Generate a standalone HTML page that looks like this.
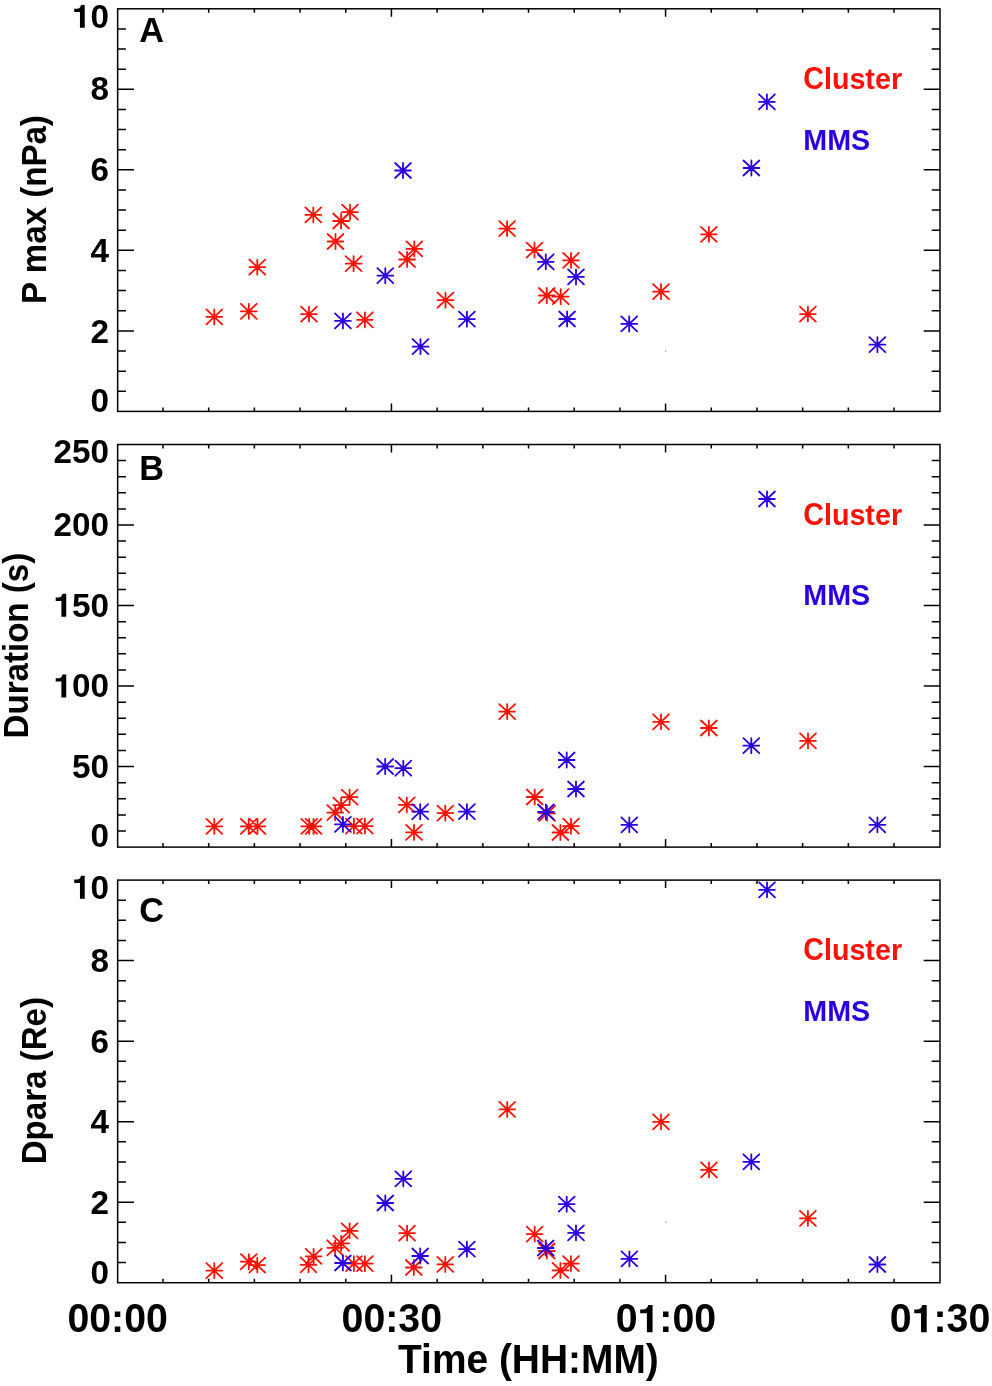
<!DOCTYPE html>
<html><head><meta charset="utf-8"><title>Figure</title>
<style>
html,body{margin:0;padding:0;background:#fff;}
svg{display:block;will-change:transform;}
text{font-family:'Liberation Sans', sans-serif;font-weight:bold;}
</style></head>
<body>
<svg width="992" height="1386" viewBox="0 0 992 1386">
<rect width="992" height="1386" fill="#fff"/>
<rect x="117.65" y="8.8" width="822.35" height="402.6" fill="none" stroke="#000" stroke-width="1.5"/>
<path d="M162.99 411.40v-4.0M162.99 8.80v4.0M208.68 411.40v-4.0M208.68 8.80v4.0M254.37 411.40v-4.0M254.37 8.80v4.0M300.06 411.40v-4.0M300.06 8.80v4.0M345.75 411.40v-4.0M345.75 8.80v4.0M391.44 411.40v-8.0M391.44 8.80v8.0M437.13 411.40v-4.0M437.13 8.80v4.0M482.82 411.40v-4.0M482.82 8.80v4.0M528.51 411.40v-4.0M528.51 8.80v4.0M574.20 411.40v-4.0M574.20 8.80v4.0M619.89 411.40v-4.0M619.89 8.80v4.0M665.58 411.40v-8.0M665.58 8.80v8.0M711.27 411.40v-4.0M711.27 8.80v4.0M756.96 411.40v-4.0M756.96 8.80v4.0M802.65 411.40v-4.0M802.65 8.80v4.0M848.34 411.40v-4.0M848.34 8.80v4.0M894.03 411.40v-4.0M894.03 8.80v4.0M117.65 391.27h8.3M940.00 391.27h-8.3M117.65 371.14h8.3M940.00 371.14h-8.3M117.65 351.01h8.3M940.00 351.01h-8.3M117.65 330.88h16.3M940.00 330.88h-16.3M117.65 310.75h8.3M940.00 310.75h-8.3M117.65 290.62h8.3M940.00 290.62h-8.3M117.65 270.49h8.3M940.00 270.49h-8.3M117.65 250.36h16.3M940.00 250.36h-16.3M117.65 230.23h8.3M940.00 230.23h-8.3M117.65 210.10h8.3M940.00 210.10h-8.3M117.65 189.97h8.3M940.00 189.97h-8.3M117.65 169.84h16.3M940.00 169.84h-16.3M117.65 149.71h8.3M940.00 149.71h-8.3M117.65 129.58h8.3M940.00 129.58h-8.3M117.65 109.45h8.3M940.00 109.45h-8.3M117.65 89.32h16.3M940.00 89.32h-16.3M117.65 69.19h8.3M940.00 69.19h-8.3M117.65 49.06h8.3M940.00 49.06h-8.3M117.65 28.93h8.3M940.00 28.93h-8.3" stroke="#000" stroke-width="1.5" fill="none"/>
<rect x="117.65" y="444.5" width="822.35" height="402.6" fill="none" stroke="#000" stroke-width="1.5"/>
<path d="M162.99 847.10v-4.0M162.99 444.50v4.0M208.68 847.10v-4.0M208.68 444.50v4.0M254.37 847.10v-4.0M254.37 444.50v4.0M300.06 847.10v-4.0M300.06 444.50v4.0M345.75 847.10v-4.0M345.75 444.50v4.0M391.44 847.10v-8.0M391.44 444.50v8.0M437.13 847.10v-4.0M437.13 444.50v4.0M482.82 847.10v-4.0M482.82 444.50v4.0M528.51 847.10v-4.0M528.51 444.50v4.0M574.20 847.10v-4.0M574.20 444.50v4.0M619.89 847.10v-4.0M619.89 444.50v4.0M665.58 847.10v-8.0M665.58 444.50v8.0M711.27 847.10v-4.0M711.27 444.50v4.0M756.96 847.10v-4.0M756.96 444.50v4.0M802.65 847.10v-4.0M802.65 444.50v4.0M848.34 847.10v-4.0M848.34 444.50v4.0M894.03 847.10v-4.0M894.03 444.50v4.0M117.65 831.00h8.3M940.00 831.00h-8.3M117.65 814.89h8.3M940.00 814.89h-8.3M117.65 798.79h8.3M940.00 798.79h-8.3M117.65 782.68h8.3M940.00 782.68h-8.3M117.65 766.58h16.3M940.00 766.58h-16.3M117.65 750.48h8.3M940.00 750.48h-8.3M117.65 734.37h8.3M940.00 734.37h-8.3M117.65 718.27h8.3M940.00 718.27h-8.3M117.65 702.16h8.3M940.00 702.16h-8.3M117.65 686.06h16.3M940.00 686.06h-16.3M117.65 669.96h8.3M940.00 669.96h-8.3M117.65 653.85h8.3M940.00 653.85h-8.3M117.65 637.75h8.3M940.00 637.75h-8.3M117.65 621.64h8.3M940.00 621.64h-8.3M117.65 605.54h16.3M940.00 605.54h-16.3M117.65 589.44h8.3M940.00 589.44h-8.3M117.65 573.33h8.3M940.00 573.33h-8.3M117.65 557.23h8.3M940.00 557.23h-8.3M117.65 541.12h8.3M940.00 541.12h-8.3M117.65 525.02h16.3M940.00 525.02h-16.3M117.65 508.92h8.3M940.00 508.92h-8.3M117.65 492.81h8.3M940.00 492.81h-8.3M117.65 476.71h8.3M940.00 476.71h-8.3M117.65 460.60h8.3M940.00 460.60h-8.3" stroke="#000" stroke-width="1.5" fill="none"/>
<rect x="117.65" y="880.1" width="822.35" height="402.6" fill="none" stroke="#000" stroke-width="1.5"/>
<path d="M162.99 1282.70v-4.0M162.99 880.10v4.0M208.68 1282.70v-4.0M208.68 880.10v4.0M254.37 1282.70v-4.0M254.37 880.10v4.0M300.06 1282.70v-4.0M300.06 880.10v4.0M345.75 1282.70v-4.0M345.75 880.10v4.0M391.44 1282.70v-8.0M391.44 880.10v8.0M437.13 1282.70v-4.0M437.13 880.10v4.0M482.82 1282.70v-4.0M482.82 880.10v4.0M528.51 1282.70v-4.0M528.51 880.10v4.0M574.20 1282.70v-4.0M574.20 880.10v4.0M619.89 1282.70v-4.0M619.89 880.10v4.0M665.58 1282.70v-8.0M665.58 880.10v8.0M711.27 1282.70v-4.0M711.27 880.10v4.0M756.96 1282.70v-4.0M756.96 880.10v4.0M802.65 1282.70v-4.0M802.65 880.10v4.0M848.34 1282.70v-4.0M848.34 880.10v4.0M894.03 1282.70v-4.0M894.03 880.10v4.0M117.65 1262.57h8.3M940.00 1262.57h-8.3M117.65 1242.44h8.3M940.00 1242.44h-8.3M117.65 1222.31h8.3M940.00 1222.31h-8.3M117.65 1202.18h16.3M940.00 1202.18h-16.3M117.65 1182.05h8.3M940.00 1182.05h-8.3M117.65 1161.92h8.3M940.00 1161.92h-8.3M117.65 1141.79h8.3M940.00 1141.79h-8.3M117.65 1121.66h16.3M940.00 1121.66h-16.3M117.65 1101.53h8.3M940.00 1101.53h-8.3M117.65 1081.40h8.3M940.00 1081.40h-8.3M117.65 1061.27h8.3M940.00 1061.27h-8.3M117.65 1041.14h16.3M940.00 1041.14h-16.3M117.65 1021.01h8.3M940.00 1021.01h-8.3M117.65 1000.88h8.3M940.00 1000.88h-8.3M117.65 980.75h8.3M940.00 980.75h-8.3M117.65 960.62h16.3M940.00 960.62h-16.3M117.65 940.49h8.3M940.00 940.49h-8.3M117.65 920.36h8.3M940.00 920.36h-8.3M117.65 900.23h8.3M940.00 900.23h-8.3" stroke="#000" stroke-width="1.5" fill="none"/>
<path d="M206.40 316.90h15.80M214.30 309.40v15.00M206.40 309.40l15.80 15.00M206.40 324.40l15.80 -15.00M240.90 311.30h15.80M248.80 303.80v15.00M240.90 303.80l15.80 15.00M240.90 318.80l15.80 -15.00M249.40 267.20h15.80M257.30 259.70v15.00M249.40 259.70l15.80 15.00M249.40 274.70l15.80 -15.00M301.10 314.10h15.80M309.00 306.60v15.00M301.10 306.60l15.80 15.00M301.10 321.60l15.80 -15.00M305.40 214.90h15.80M313.30 207.40v15.00M305.40 207.40l15.80 15.00M305.40 222.40l15.80 -15.00M327.60 241.50h15.80M335.50 234.00v15.00M327.60 234.00l15.80 15.00M327.60 249.00l15.80 -15.00M333.20 221.00h15.80M341.10 213.50v15.00M333.20 213.50l15.80 15.00M333.20 228.50l15.80 -15.00M342.10 212.10h15.80M350.00 204.60v15.00M342.10 204.60l15.80 15.00M342.10 219.60l15.80 -15.00M345.70 263.70h15.80M353.60 256.20v15.00M345.70 256.20l15.80 15.00M345.70 271.20l15.80 -15.00M357.00 319.80h15.80M364.90 312.30v15.00M357.00 312.30l15.80 15.00M357.00 327.30l15.80 -15.00M399.20 259.50h15.80M407.10 252.00v15.00M399.20 252.00l15.80 15.00M399.20 267.00l15.80 -15.00M406.40 248.90h15.80M414.30 241.40v15.00M406.40 241.40l15.80 15.00M406.40 256.40l15.80 -15.00M437.60 300.20h15.80M445.50 292.70v15.00M437.60 292.70l15.80 15.00M437.60 307.70l15.80 -15.00M499.20 228.60h15.80M507.10 221.10v15.00M499.20 221.10l15.80 15.00M499.20 236.10l15.80 -15.00M526.60 250.10h15.80M534.50 242.60v15.00M526.60 242.60l15.80 15.00M526.60 257.60l15.80 -15.00M538.90 295.50h15.80M546.80 288.00v15.00M538.90 288.00l15.80 15.00M538.90 303.00l15.80 -15.00M552.80 296.70h15.80M560.70 289.20v15.00M552.80 289.20l15.80 15.00M552.80 304.20l15.80 -15.00M563.10 260.40h15.80M571.00 252.90v15.00M563.10 252.90l15.80 15.00M563.10 267.90l15.80 -15.00M653.10 291.70h15.80M661.00 284.20v15.00M653.10 284.20l15.80 15.00M653.10 299.20l15.80 -15.00M701.00 234.30h15.80M708.90 226.80v15.00M701.00 226.80l15.80 15.00M701.00 241.80l15.80 -15.00M800.00 314.10h15.80M807.90 306.60v15.00M800.00 306.60l15.80 15.00M800.00 321.60l15.80 -15.00" stroke="#fa1206" stroke-width="1.8" stroke-linecap="round" fill="none"/>
<path d="M335.00 320.90h15.80M342.90 313.40v15.00M335.00 313.40l15.80 15.00M335.00 328.40l15.80 -15.00M377.40 275.70h15.80M385.30 268.20v15.00M377.40 268.20l15.80 15.00M377.40 283.20l15.80 -15.00M395.10 170.50h15.80M403.00 163.00v15.00M395.10 163.00l15.80 15.00M395.10 178.00l15.80 -15.00M412.60 346.70h15.80M420.50 339.20v15.00M412.60 339.20l15.80 15.00M412.60 354.20l15.80 -15.00M459.00 319.20h15.80M466.90 311.70v15.00M459.00 311.70l15.80 15.00M459.00 326.70l15.80 -15.00M537.90 261.80h15.80M545.80 254.30v15.00M537.90 254.30l15.80 15.00M537.90 269.30l15.80 -15.00M559.20 319.00h15.80M567.10 311.50v15.00M559.20 311.50l15.80 15.00M559.20 326.50l15.80 -15.00M568.10 276.90h15.80M576.00 269.40v15.00M568.10 269.40l15.80 15.00M568.10 284.40l15.80 -15.00M621.30 323.90h15.80M629.20 316.40v15.00M621.30 316.40l15.80 15.00M621.30 331.40l15.80 -15.00M743.50 168.00h15.80M751.40 160.50v15.00M743.50 160.50l15.80 15.00M743.50 175.50l15.80 -15.00M759.00 101.80h15.80M766.90 94.30v15.00M759.00 94.30l15.80 15.00M759.00 109.30l15.80 -15.00M869.50 344.70h15.80M877.40 337.20v15.00M869.50 337.20l15.80 15.00M869.50 352.20l15.80 -15.00" stroke="#2a00e2" stroke-width="1.8" stroke-linecap="round" fill="none"/>
<path d="M206.40 826.40h15.80M214.30 818.90v15.00M206.40 818.90l15.80 15.00M206.40 833.90l15.80 -15.00M240.80 826.40h15.80M248.70 818.90v15.00M240.80 818.90l15.80 15.00M240.80 833.90l15.80 -15.00M249.60 826.40h15.80M257.50 818.90v15.00M249.60 818.90l15.80 15.00M249.60 833.90l15.80 -15.00M301.30 826.40h15.80M309.20 818.90v15.00M301.30 818.90l15.80 15.00M301.30 833.90l15.80 -15.00M305.60 826.40h15.80M313.50 818.90v15.00M305.60 818.90l15.80 15.00M305.60 833.90l15.80 -15.00M327.30 812.70h15.80M335.20 805.20v15.00M327.30 805.20l15.80 15.00M327.30 820.20l15.80 -15.00M333.30 805.20h15.80M341.20 797.70v15.00M333.30 797.70l15.80 15.00M333.30 812.70l15.80 -15.00M341.70 797.20h15.80M349.60 789.70v15.00M341.70 789.70l15.80 15.00M341.70 804.70l15.80 -15.00M346.00 826.10h15.80M353.90 818.60v15.00M346.00 818.60l15.80 15.00M346.00 833.60l15.80 -15.00M357.00 826.10h15.80M364.90 818.60v15.00M357.00 818.60l15.80 15.00M357.00 833.60l15.80 -15.00M398.90 804.90h15.80M406.80 797.40v15.00M398.90 797.40l15.80 15.00M398.90 812.40l15.80 -15.00M406.10 832.40h15.80M414.00 824.90v15.00M406.10 824.90l15.80 15.00M406.10 839.90l15.80 -15.00M437.40 813.10h15.80M445.30 805.60v15.00M437.40 805.60l15.80 15.00M437.40 820.60l15.80 -15.00M499.30 711.60h15.80M507.20 704.10v15.00M499.30 704.10l15.80 15.00M499.30 719.10l15.80 -15.00M526.80 797.00h15.80M534.70 789.50v15.00M526.80 789.50l15.80 15.00M526.80 804.50l15.80 -15.00M539.30 813.30h15.80M547.20 805.80v15.00M539.30 805.80l15.80 15.00M539.30 820.80l15.80 -15.00M552.50 832.50h15.80M560.40 825.00v15.00M552.50 825.00l15.80 15.00M552.50 840.00l15.80 -15.00M563.10 826.20h15.80M571.00 818.70v15.00M563.10 818.70l15.80 15.00M563.10 833.70l15.80 -15.00M653.10 721.80h15.80M661.00 714.30v15.00M653.10 714.30l15.80 15.00M653.10 729.30l15.80 -15.00M701.00 728.00h15.80M708.90 720.50v15.00M701.00 720.50l15.80 15.00M701.00 735.50l15.80 -15.00M800.10 740.90h15.80M808.00 733.40v15.00M800.10 733.40l15.80 15.00M800.10 748.40l15.80 -15.00" stroke="#fa1206" stroke-width="1.8" stroke-linecap="round" fill="none"/>
<path d="M335.00 824.40h15.80M342.90 816.90v15.00M335.00 816.90l15.80 15.00M335.00 831.90l15.80 -15.00M377.30 766.50h15.80M385.20 759.00v15.00M377.30 759.00l15.80 15.00M377.30 774.00l15.80 -15.00M395.40 768.20h15.80M403.30 760.70v15.00M395.40 760.70l15.80 15.00M395.40 775.70l15.80 -15.00M412.30 811.70h15.80M420.20 804.20v15.00M412.30 804.20l15.80 15.00M412.30 819.20l15.80 -15.00M459.00 811.70h15.80M466.90 804.20v15.00M459.00 804.20l15.80 15.00M459.00 819.20l15.80 -15.00M538.00 812.00h15.80M545.90 804.50v15.00M538.00 804.50l15.80 15.00M538.00 819.50l15.80 -15.00M558.80 760.00h15.80M566.70 752.50v15.00M558.80 752.50l15.80 15.00M558.80 767.50l15.80 -15.00M568.10 789.00h15.80M576.00 781.50v15.00M568.10 781.50l15.80 15.00M568.10 796.50l15.80 -15.00M621.40 824.80h15.80M629.30 817.30v15.00M621.40 817.30l15.80 15.00M621.40 832.30l15.80 -15.00M743.40 745.70h15.80M751.30 738.20v15.00M743.40 738.20l15.80 15.00M743.40 753.20l15.80 -15.00M759.10 499.00h15.80M767.00 491.50v15.00M759.10 491.50l15.80 15.00M759.10 506.50l15.80 -15.00M869.50 824.80h15.80M877.40 817.30v15.00M869.50 817.30l15.80 15.00M869.50 832.30l15.80 -15.00" stroke="#2a00e2" stroke-width="1.8" stroke-linecap="round" fill="none"/>
<path d="M206.40 1270.70h15.80M214.30 1263.20v15.00M206.40 1263.20l15.80 15.00M206.40 1278.20l15.80 -15.00M240.90 1261.70h15.80M248.80 1254.20v15.00M240.90 1254.20l15.80 15.00M240.90 1269.20l15.80 -15.00M249.40 1265.10h15.80M257.30 1257.60v15.00M249.40 1257.60l15.80 15.00M249.40 1272.60l15.80 -15.00M300.60 1264.80h15.80M308.50 1257.30v15.00M300.60 1257.30l15.80 15.00M300.60 1272.30l15.80 -15.00M305.70 1256.30h15.80M313.60 1248.80v15.00M305.70 1248.80l15.80 15.00M305.70 1263.80l15.80 -15.00M327.30 1247.80h15.80M335.20 1240.30v15.00M327.30 1240.30l15.80 15.00M327.30 1255.30l15.80 -15.00M333.30 1243.30h15.80M341.20 1235.80v15.00M333.30 1235.80l15.80 15.00M333.30 1250.80l15.80 -15.00M341.70 1230.80h15.80M349.60 1223.30v15.00M341.70 1223.30l15.80 15.00M341.70 1238.30l15.80 -15.00M346.00 1263.70h15.80M353.90 1256.20v15.00M346.00 1256.20l15.80 15.00M346.00 1271.20l15.80 -15.00M357.00 1263.70h15.80M364.90 1256.20v15.00M357.00 1256.20l15.80 15.00M357.00 1271.20l15.80 -15.00M399.20 1233.10h15.80M407.10 1225.60v15.00M399.20 1225.60l15.80 15.00M399.20 1240.60l15.80 -15.00M405.90 1267.50h15.80M413.80 1260.00v15.00M405.90 1260.00l15.80 15.00M405.90 1275.00l15.80 -15.00M437.40 1264.40h15.80M445.30 1256.90v15.00M437.40 1256.90l15.80 15.00M437.40 1271.90l15.80 -15.00M499.30 1109.40h15.80M507.20 1101.90v15.00M499.30 1101.90l15.80 15.00M499.30 1116.90l15.80 -15.00M526.80 1234.10h15.80M534.70 1226.60v15.00M526.80 1226.60l15.80 15.00M526.80 1241.60l15.80 -15.00M538.90 1251.00h15.80M546.80 1243.50v15.00M538.90 1243.50l15.80 15.00M538.90 1258.50l15.80 -15.00M552.50 1270.40h15.80M560.40 1262.90v15.00M552.50 1262.90l15.80 15.00M552.50 1277.90l15.80 -15.00M563.10 1263.60h15.80M571.00 1256.10v15.00M563.10 1256.10l15.80 15.00M563.10 1271.10l15.80 -15.00M653.10 1121.90h15.80M661.00 1114.40v15.00M653.10 1114.40l15.80 15.00M653.10 1129.40l15.80 -15.00M701.10 1169.90h15.80M709.00 1162.40v15.00M701.10 1162.40l15.80 15.00M701.10 1177.40l15.80 -15.00M800.00 1218.30h15.80M807.90 1210.80v15.00M800.00 1210.80l15.80 15.00M800.00 1225.80l15.80 -15.00" stroke="#fa1206" stroke-width="1.8" stroke-linecap="round" fill="none"/>
<path d="M335.00 1263.00h15.80M342.90 1255.50v15.00M335.00 1255.50l15.80 15.00M335.00 1270.50l15.80 -15.00M377.40 1203.00h15.80M385.30 1195.50v15.00M377.40 1195.50l15.80 15.00M377.40 1210.50l15.80 -15.00M395.40 1178.80h15.80M403.30 1171.30v15.00M395.40 1171.30l15.80 15.00M395.40 1186.30l15.80 -15.00M412.30 1256.00h15.80M420.20 1248.50v15.00M412.30 1248.50l15.80 15.00M412.30 1263.50l15.80 -15.00M459.00 1249.20h15.80M466.90 1241.70v15.00M459.00 1241.70l15.80 15.00M459.00 1256.70l15.80 -15.00M537.80 1248.00h15.80M545.70 1240.50v15.00M537.80 1240.50l15.80 15.00M537.80 1255.50l15.80 -15.00M558.80 1204.20h15.80M566.70 1196.70v15.00M558.80 1196.70l15.80 15.00M558.80 1211.70l15.80 -15.00M568.10 1232.90h15.80M576.00 1225.40v15.00M568.10 1225.40l15.80 15.00M568.10 1240.40l15.80 -15.00M621.50 1258.90h15.80M629.40 1251.40v15.00M621.50 1251.40l15.80 15.00M621.50 1266.40l15.80 -15.00M743.40 1161.80h15.80M751.30 1154.30v15.00M743.40 1154.30l15.80 15.00M743.40 1169.30l15.80 -15.00M759.10 889.80h15.80M767.00 882.30v15.00M759.10 882.30l15.80 15.00M759.10 897.30l15.80 -15.00M869.50 1264.50h15.80M877.40 1257.00v15.00M869.50 1257.00l15.80 15.00M869.50 1272.00l15.80 -15.00" stroke="#2a00e2" stroke-width="1.8" stroke-linecap="round" fill="none"/>
<rect x="665" y="350.5" width="1.2" height="1.2" fill="#888"/>
<rect x="665.3" y="1221.5" width="1.2" height="1.2" fill="#888"/>
<text transform="translate(109.00 27.84) scale(1 1.025)" font-size="33.3" text-anchor="end" fill="#000" >&#8199;0</text><path transform="translate(71.96 27.84) scale(33.300 34.132)" d="M0.240 0H0.384V-0.671H0.272C0.258 -0.605 0.222 -0.563 0.15 -0.561H0.068V-0.464H0.240Z" fill="#000"/>
<text transform="translate(109.00 99.84) scale(1 1.025)" font-size="33.3" text-anchor="end" fill="#000" >8</text>
<text transform="translate(109.00 180.54) scale(1 1.025)" font-size="33.3" text-anchor="end" fill="#000" >6</text>
<text transform="translate(109.00 261.64) scale(1 1.025)" font-size="33.3" text-anchor="end" fill="#000" >4</text>
<text transform="translate(109.00 342.54) scale(1 1.025)" font-size="33.3" text-anchor="end" fill="#000" >2</text>
<text transform="translate(109.00 412.34) scale(1 1.025)" font-size="33.3" text-anchor="end" fill="#000" >0</text>
<text transform="translate(109.00 463.14) scale(1 1.025)" font-size="33.3" text-anchor="end" fill="#000" >250</text>
<text transform="translate(109.00 535.94) scale(1 1.025)" font-size="33.3" text-anchor="end" fill="#000" >200</text>
<text transform="translate(109.00 616.74) scale(1 1.025)" font-size="33.3" text-anchor="end" fill="#000" >&#8199;50</text><path transform="translate(53.44 616.74) scale(33.300 34.132)" d="M0.240 0H0.384V-0.671H0.272C0.258 -0.605 0.222 -0.563 0.15 -0.561H0.068V-0.464H0.240Z" fill="#000"/>
<text transform="translate(109.00 697.44) scale(1 1.025)" font-size="33.3" text-anchor="end" fill="#000" >&#8199;00</text><path transform="translate(53.44 697.44) scale(33.300 34.132)" d="M0.240 0H0.384V-0.671H0.272C0.258 -0.605 0.222 -0.563 0.15 -0.561H0.068V-0.464H0.240Z" fill="#000"/>
<text transform="translate(109.00 777.74) scale(1 1.025)" font-size="33.3" text-anchor="end" fill="#000" >50</text>
<text transform="translate(109.00 847.34) scale(1 1.025)" font-size="33.3" text-anchor="end" fill="#000" >0</text>
<text transform="translate(109.00 898.74) scale(1 1.025)" font-size="33.3" text-anchor="end" fill="#000" >&#8199;0</text><path transform="translate(71.96 898.74) scale(33.300 34.132)" d="M0.240 0H0.384V-0.671H0.272C0.258 -0.605 0.222 -0.563 0.15 -0.561H0.068V-0.464H0.240Z" fill="#000"/>
<text transform="translate(109.00 971.84) scale(1 1.025)" font-size="33.3" text-anchor="end" fill="#000" >8</text>
<text transform="translate(109.00 1052.54) scale(1 1.025)" font-size="33.3" text-anchor="end" fill="#000" >6</text>
<text transform="translate(109.00 1133.24) scale(1 1.025)" font-size="33.3" text-anchor="end" fill="#000" >4</text>
<text transform="translate(109.00 1213.94) scale(1 1.025)" font-size="33.3" text-anchor="end" fill="#000" >2</text>
<text transform="translate(109.00 1284.34) scale(1 1.025)" font-size="33.3" text-anchor="end" fill="#000" >0</text>
<text transform="translate(117.65 1332.20) scale(1 1.035)" font-size="39.3" text-anchor="middle" fill="#000" >00:00</text>
<text transform="translate(391.77 1332.20) scale(1 1.035)" font-size="39.3" text-anchor="middle" fill="#000" >00:30</text>
<text transform="translate(665.88 1332.20) scale(1 1.035)" font-size="39.3" text-anchor="middle" fill="#000" >0&#8199;:00</text><path transform="translate(637.48 1332.20) scale(39.300 40.675)" d="M0.240 0H0.384V-0.671H0.272C0.258 -0.605 0.222 -0.563 0.15 -0.561H0.068V-0.464H0.240Z" fill="#000"/>
<text transform="translate(940.00 1332.20) scale(1 1.035)" font-size="39.3" text-anchor="middle" fill="#000" >0&#8199;:30</text><path transform="translate(911.60 1332.20) scale(39.300 40.675)" d="M0.240 0H0.384V-0.671H0.272C0.258 -0.605 0.222 -0.563 0.15 -0.561H0.068V-0.464H0.240Z" fill="#000"/>
<text transform="translate(528.40 1373.40) scale(1 1.04)" font-size="38.9" text-anchor="middle" fill="#000" >Time (HH:MM)</text>
<text transform="translate(46.0 209.5) rotate(-90) scale(1 1.04)" font-size="33.1" text-anchor="middle">P max (nPa)</text>
<text transform="translate(28.1 645.6) rotate(-90) scale(1 1.04)" font-size="33.1" text-anchor="middle">Duration (s)</text>
<text transform="translate(46.0 1080.7) rotate(-90) scale(1 1.04)" font-size="33.1" text-anchor="middle">Dpara (Re)</text>
<text x="139.20" y="41.80" font-size="34.3" text-anchor="start" fill="#000" >A</text>
<text x="139.20" y="479.80" font-size="34.3" text-anchor="start" fill="#000" >B</text>
<text x="139.20" y="921.50" font-size="34.3" text-anchor="start" fill="#000" >C</text>
<text transform="translate(803.20 89.00) scale(1 1.07)" font-size="28.7" text-anchor="start" fill="#fa1206" >C</text>
<text x="823.93" y="89.00" font-size="28.7" text-anchor="start" fill="#fa1206" >luster</text>
<text transform="translate(803.30 149.60) scale(1 1.055)" font-size="28.7" text-anchor="start" fill="#2a00e2" >MMS</text>
<text transform="translate(803.20 524.70) scale(1 1.07)" font-size="28.7" text-anchor="start" fill="#fa1206" >C</text>
<text x="823.93" y="524.70" font-size="28.7" text-anchor="start" fill="#fa1206" >luster</text>
<text transform="translate(803.30 605.40) scale(1 1.055)" font-size="28.7" text-anchor="start" fill="#2a00e2" >MMS</text>
<text transform="translate(803.20 960.30) scale(1 1.07)" font-size="28.7" text-anchor="start" fill="#fa1206" >C</text>
<text x="823.93" y="960.30" font-size="28.7" text-anchor="start" fill="#fa1206" >luster</text>
<text transform="translate(803.30 1020.90) scale(1 1.055)" font-size="28.7" text-anchor="start" fill="#2a00e2" >MMS</text>
</svg>
</body></html>
